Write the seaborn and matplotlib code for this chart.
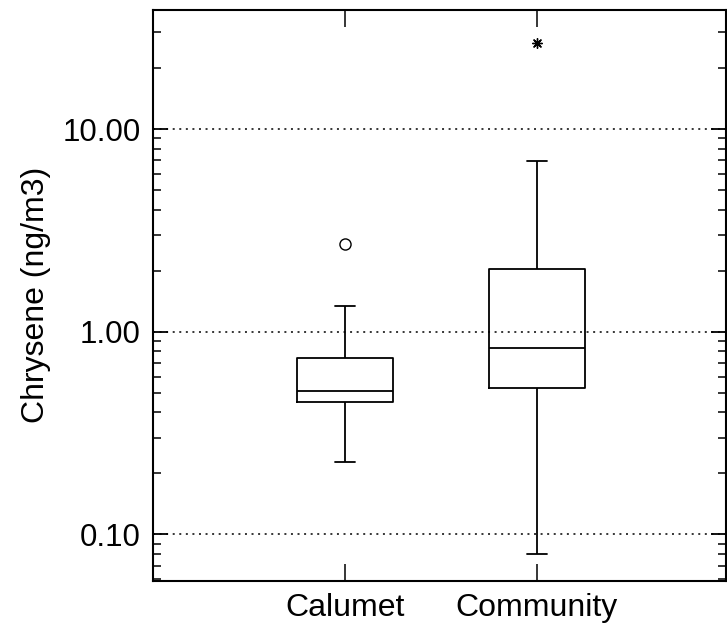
import numpy as np
import pandas as pd
import matplotlib
matplotlib.use("Agg")
import matplotlib.pyplot as plt
import matplotlib.ticker as mticker
import seaborn as sns

# Values (ng/m3)
categories = ["Calumet", "Community"]
# five-number summary per site: lower whisker, Q1, median, Q3, upper whisker
calumet_summary = [0.228, 0.451, 0.511, 0.744, 1.34]
community_summary = [0.080, 0.529, 0.834, 2.05, 6.99]
# points beyond the whiskers
calumet_outliers = [2.72]      # drawn as open circle
community_extremes = [26.7]    # drawn as star

ytick_values = [0.1, 1.0, 10.0]
ytick_labels = ["0.10", "1.00", "10.00"]

df = pd.DataFrame({
    "site": ["Calumet"] * len(calumet_summary) + ["Community"] * len(community_summary),
    "value": calumet_summary + community_summary,
})
out_df = pd.DataFrame({"site": ["Calumet"] * len(calumet_outliers), "value": calumet_outliers})
ext_df = pd.DataFrame({"site": ["Community"] * len(community_extremes), "value": community_extremes})

sns.set_style("ticks")
plt.rcParams["font.family"] = ["Liberation Sans", "DejaVu Sans"]
plt.rcParams["text.color"] = "black"
plt.rcParams["axes.labelcolor"] = "black"
plt.rcParams["xtick.color"] = "black"
plt.rcParams["ytick.color"] = "black"

fig = plt.figure(figsize=(7.27, 6.31), dpi=100)
ax = fig.add_axes([153 / 727, 1 - 580.5 / 631, 573 / 727, 570.5 / 631])

sns.boxplot(data=df, x="site", y="value", order=categories, whis=np.inf,
            width=0.5, fill=False, color="black", linewidth=1.3,
            log_scale=True, ax=ax)

# narrow the whisker caps
for cont in ax.containers:
    if hasattr(cont, "caps"):
        for cap in cont.caps:
            xs = cap.get_xdata()
            mid = (xs[0] + xs[1]) / 2
            cap.set_xdata([mid - 0.052, mid + 0.052])

sns.stripplot(data=out_df, x="site", y="value", order=categories, jitter=False,
              marker="o", size=8, color="white", edgecolor="black", linewidth=1,
              ax=ax, zorder=5)
sns.stripplot(data=ext_df, x="site", y="value", order=categories, jitter=False,
              marker=(8, 2, 0), size=7, color="black", edgecolor="black", linewidth=1,
              ax=ax, zorder=5)

ax.set_yscale("log")
ax.set_ylim(0.0592, 38.7)
ax.set_xlim(-1.0, 1.985)

ax.yaxis.set_major_locator(mticker.FixedLocator(ytick_values))
ax.yaxis.set_major_formatter(mticker.FixedFormatter(ytick_labels))
ax.yaxis.set_minor_locator(mticker.LogLocator(base=10, subs=np.arange(2, 10)))
ax.yaxis.set_minor_formatter(mticker.NullFormatter())

ax.yaxis.grid(True, which="major", color="black", linewidth=1.1,
              linestyle=(0, (1.3, 3)))
ax.set_axisbelow(True)

ax.tick_params(axis="y", which="major", direction="in", length=11, width=1.3,
               left=True, right=True, labelsize=22.5, pad=9)
ax.tick_params(axis="y", which="minor", direction="in", length=5.5, width=1.1,
               left=True, right=True)
ax.tick_params(axis="x", which="major", direction="in", length=12.5, width=1.1,
               top=True, bottom=True, labelsize=23, pad=9)

for s in ax.spines.values():
    s.set_visible(True)
    s.set_linewidth(1.5)
    s.set_color("black")

ax.set_xlabel("")
ax.set_ylabel("Chrysene (ng/m3)", fontsize=23, labelpad=8)

fig.savefig("out.png", dpi=100)
